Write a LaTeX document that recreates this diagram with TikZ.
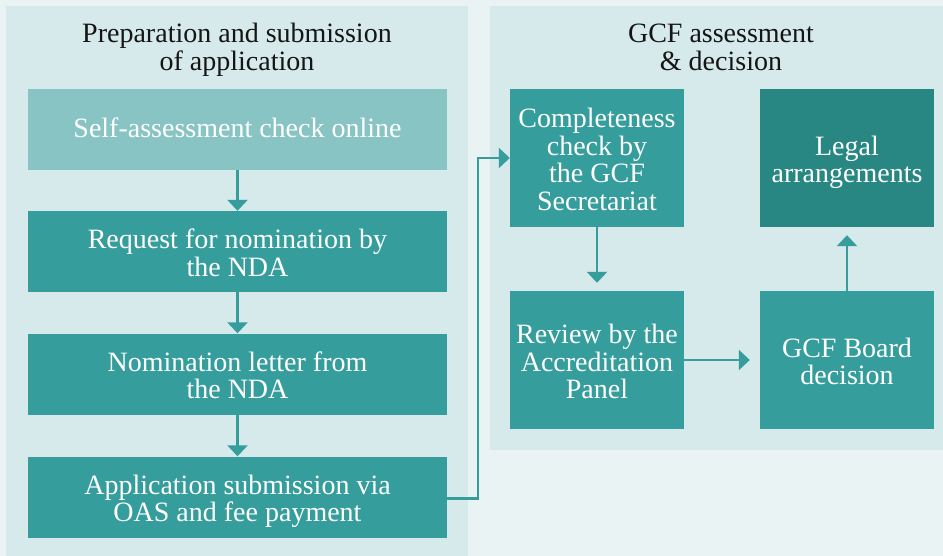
\documentclass[tikz,border=0pt]{standalone}
\usepackage{fontspec}
\setmainfont{Liberation Serif}
\usetikzlibrary{arrows.meta}
\definecolor{bgc}{HTML}{EAF3F4}
\definecolor{panelc}{HTML}{D6E9EB}
\definecolor{lightbox}{HTML}{88C4C4}
\definecolor{boxc}{HTML}{369D9D}
\definecolor{darkbox}{HTML}{288783}
\definecolor{titlec}{HTML}{151515}
\newcommand{\tS}{\rule{0pt}{28.5pt}}
\newcommand{\bS}{\rule[-6.5pt]{0pt}{6.5pt}}
\tikzset{
  txt/.style={font=\fontsize{28}{27.7}\selectfont, align=center, inner sep=0pt},
  leftbox/.style={txt, fill=boxc, text=white, minimum width=419pt, minimum height=81pt},
  rightbox/.style={txt, fill=boxc, text=white, minimum width=174pt, minimum height=138pt},
  paneltitle/.style={txt, text=titlec},
  conn/.style={draw=boxc, line width=2.5pt, -{Triangle[width=20pt,length=11pt]}}
}
\begin{document}
\begin{tikzpicture}[x=1pt,y=-1pt]
\useasboundingbox (0,0) rectangle (943,556);
\fill[bgc] (0,0) rectangle (943,556);
\fill[panelc] (6,6) rectangle (468,556);
\fill[panelc] (490,6) rectangle (943,450);
\node[paneltitle] (t1) at (237,45.5) {\tS Preparation and submission\\of application\bS};
\node[paneltitle] (t2) at (721,45.5) {\tS GCF assessment\\\& decision\bS};
\node[leftbox, fill=lightbox] (self) at (237.5,129.5) {\tS Self-assessment check online\rule[-12pt]{0pt}{1pt}};
\node[leftbox] (req) at (237.5,251.5) {\tS Request for nomination by\\the NDA\bS};
\node[leftbox] (nom) at (237.5,374) {\tS Nomination letter from\\the NDA\bS};
\node[leftbox] (app) at (237.5,497) {\tS Application submission via\\OAS and fee payment\bS};
\node[rightbox] (comp) at (597,158) {\tS Completeness\\check by\\the GCF\\Secretariat\bS};
\node[rightbox] (rev) at (597,360) {\tS Review by the\\Accreditation\\Panel\bS};
\node[rightbox, fill=darkbox] (legal) at (847,158) {\tS Legal\\arrangements\bS};
\node[rightbox] (board) at (847,360) {\tS GCF Board\\decision\bS};
\draw[conn] (self) -- (req);
\draw[conn] (req) -- (nom);
\draw[conn] (nom) -- (app);
\draw[conn] ([yshift=-1.5pt]app.east) -- ++(31,0) |- (comp.west);
\draw[conn, shorten >=8pt] (comp) -- (rev);
\draw[conn, shorten >=10pt] (rev) -- (board);
\draw[conn, shorten >=8pt] (board) -- (legal);
\end{tikzpicture}
\end{document}
